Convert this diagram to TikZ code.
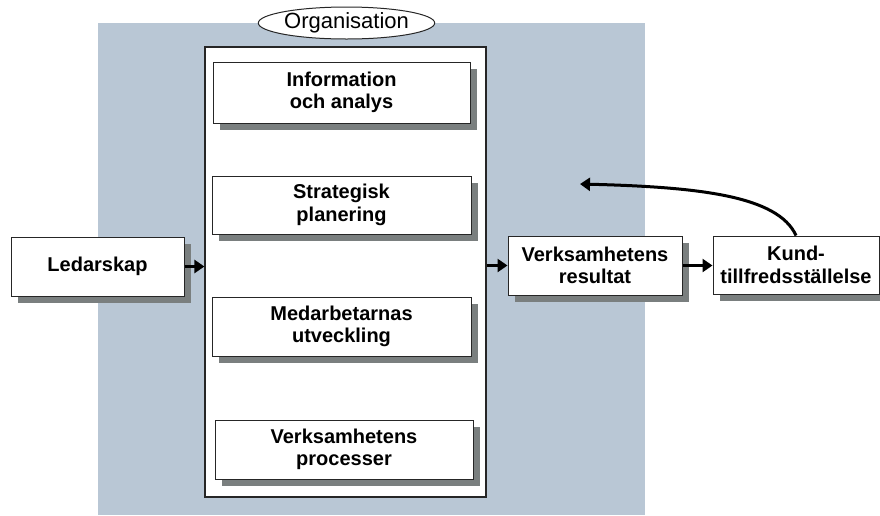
\documentclass[tikz,border=0pt]{standalone}
\usepackage{fontspec}
\setmainfont{Liberation Sans}
\usetikzlibrary{shapes.geometric,shadows,arrows.meta}
\definecolor{orgblue}{RGB}{185,199,213}
\definecolor{shadowgray}{RGB}{122,127,127}

\begin{document}
\begin{tikzpicture}[x=1pt, y=-1pt,
    box/.style={rectangle, draw=black!85, line width=1pt, fill=white, align=center, inner sep=0pt,
        font=\fontsize{20}{22.5}\selectfont\bfseries,
        drop shadow={shadow xshift=7pt, shadow yshift=-7pt, fill=shadowgray, opacity=1}},
    arr/.style={line width=3pt, -{Triangle[length=10pt,width=13pt]}}]

\useasboundingbox (0,0) rectangle (880,515);

%\fill[white] (0,0) rectangle (880,515);
\fill[orgblue] (98,23) rectangle (645,515);

\node[draw=black!85, line width=1.2pt, fill=white, minimum width=281, minimum height=450, inner sep=0pt] (col) at (345.5,272) {};
\node[ellipse, draw=black!85, line width=1pt, fill=white, minimum width=159, minimum height=32, inner sep=0pt,
    font=\fontsize{22}{24}\selectfont] (org) at (346.5,23) {Organisation};

\node[box, minimum width=257, minimum height=61] (info) at (341.5,92.5) {Information\\och analys};
\node[box, minimum width=259, minimum height=58] (strat) at (341.5,205) {Strategisk\\planering};
\node[box, minimum width=259, minimum height=59] (medarb) at (341.5,326.5) {Medarbetarnas\\utveckling};
\node[box, minimum width=258, minimum height=59] (proc) at (344,449.5) {Verksamhetens\\processer};

\node[box, minimum width=173, minimum height=59] (ledar) at (97.5,266.5) {Ledarskap};
\node[box, minimum width=174, minimum height=59] (result) at (595,265.5) {Verksamhetens\\resultat};
\node[box, minimum width=166, minimum height=58] (kund) at (796,265) {Kund-\\tillfredsställelse};

\coordinate (back) at (580,184);

\draw[arr] (ledar.east) -- (ledar.east -| col.west);
\draw[arr] (col.east |- result.west) -- (result.west);
\draw[arr] (result.east) -- (kund.west |- result.east);
\draw[arr] (kund.north) .. controls (778,196) and (700,187) .. (back);

\end{tikzpicture}
\end{document}
